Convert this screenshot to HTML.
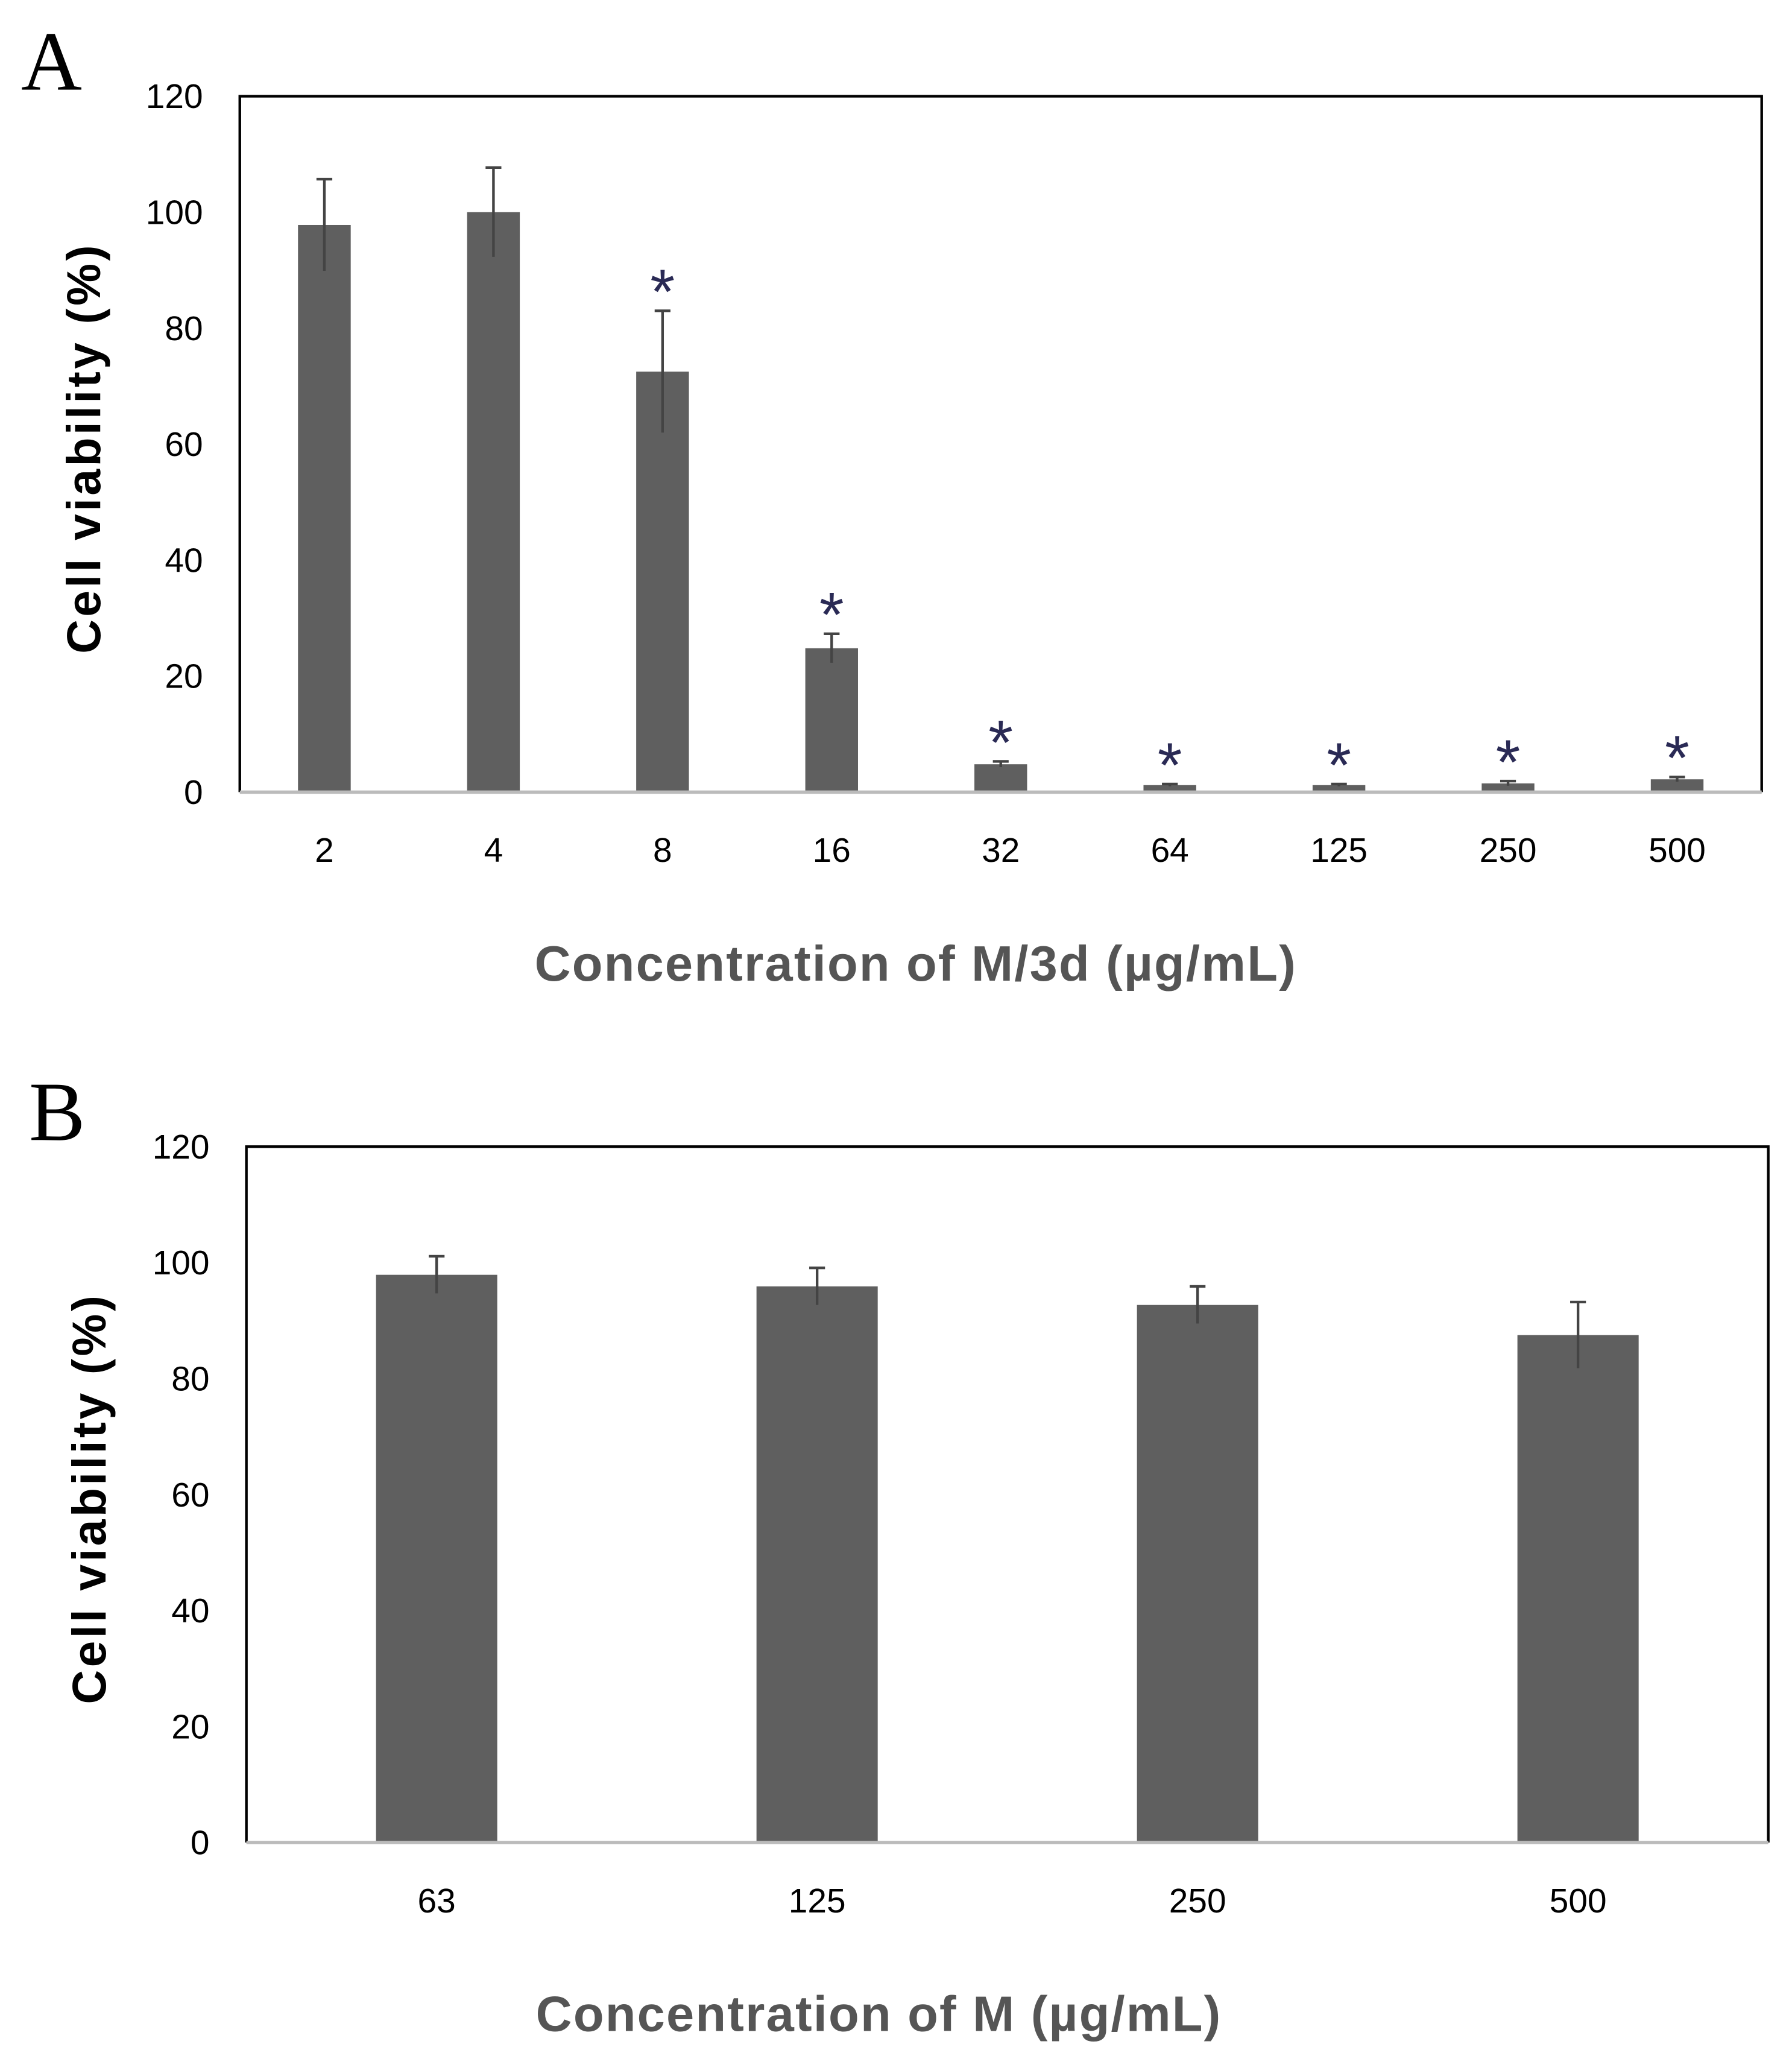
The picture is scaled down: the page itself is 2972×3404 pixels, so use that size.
<!DOCTYPE html>
<html><head><meta charset="utf-8"><style>
html,body{margin:0;padding:0;background:#fff;}
svg{display:block;}
</style></head><body>
<svg id="fig" width="2972" height="3404" viewBox="0 0 1360 1557.7" xmlns="http://www.w3.org/2000/svg" font-family="Liberation Sans, sans-serif">
<rect width="1360" height="1557.7" fill="#fff"/>
<g id="pa"></g>
<g id="pb"></g>
</svg>
<script>
const catsA = ["2","4","8","16","32","64","125","250","500"];
const valsA = [97.8, 100, 72.5, 24.8, 4.8, 1.2, 1.2, 1.5, 2.2];
const errA = [7.9, 7.7, 10.5, 2.5, 0.5, 0.2, 0.2, 0.4, 0.4];
const sigA = [false, false, true, true, true, true, true, true, true];
const catsB = ["63","125","250","500"];
const valsB = [97.9, 95.9, 92.7, 87.5];
const errB = [3.2, 3.2, 3.2, 5.7];
const yTicks = [0, 20, 40, 60, 80, 100, 120];

const NS = "http://www.w3.org/2000/svg";
function mk(parent, tag, attrs, txt) {
  const e = document.createElementNS(NS, tag);
  for (const k in attrs) e.setAttribute(k, attrs[k]);
  if (txt !== undefined) e.textContent = txt;
  parent.appendChild(e);
  return e;
}
function panel(g, cfg, cats, vals, errs, sig) {
  const {left, right, top, base, barW, letter, xTitle, yTitleX, xTitleX} = cfg;
  const y = v => base - (v / 120) * (base - top);
  const step = (right - left) / cats.length;
  const x = i => left + step * (i + 0.5);
  let e;
  e = mk(g, "text", {x: cfg.letterX, y: top - 5, style: "font-family:'Liberation Serif',serif", "font-size": 64, fill: "#000"}, letter);
  
  
  e = mk(g, "path", {d: `M${left},${base} L${left},${top} L${right},${top} L${right},${base}`, fill: "none", stroke: "#000", "stroke-width": 2});
  
  
  yTicks.forEach(t => {
    const el = mk(g, "text", {x: left - 28, y: y(t) + 9, "text-anchor": "end", "font-size": 26, fill: "#000"}, String(t));
    
    
  });
  cats.forEach((c, i) => {
    const cx = x(i);
    const b = mk(g, "rect", {x: cx - barW / 2, y: y(vals[i]), width: barW, height: base - y(vals[i]), fill: "#5f5f5f"});
    
    
    const yt = y(vals[i] + errs[i]), yb = y(vals[i] - errs[i]);
    const eb = mk(g, "path", {d: `M${cx},${yb} L${cx},${yt} M${cx - 6},${yt} L${cx + 6},${yt}`, stroke: "#444", "stroke-width": 2, fill: "none"});
    
    
    if (sig && sig[i]) {
      const s = mk(g, "text", {x: cx, y: yt + 2, "text-anchor": "middle", "font-size": 48, fill: "#2a2a55"}, "*");
      
      
    }
    const tl = mk(g, "text", {x: cx, y: base + 53, "text-anchor": "middle", "font-size": 26, fill: "#000"}, c);
    
    
  });
  e = mk(g, "line", {x1: left, y1: base, x2: right, y2: base, stroke: "#bbb", "stroke-width": 2.5});
  
  
  e = mk(g, "text", {x: xTitleX, y: base + 143, "text-anchor": "middle", "font-size": 38, "font-weight": "bold", "letter-spacing": 1, fill: "#555"}, xTitle);
  
  
  const ym = (top + base) / 2 + 3;
  e = mk(g, "text", {x: yTitleX, y: ym, "text-anchor": "middle", "font-size": 36, "font-weight": "bold", "letter-spacing": 2, fill: "#000", transform: `rotate(-90 ${yTitleX} ${ym})`}, "Cell viability (%)");
  
  
}
panel(document.getElementById("pa"), {left: 182, right: 1337, top: 73, base: 601, barW: 40, letter: "A", letterX: 16, xTitle: "Concentration of M/3d (\u00b5g/mL)", yTitleX: 76, xTitleX: 695}, catsA, valsA, errA, sigA);
panel(document.getElementById("pb"), {left: 187, right: 1342, top: 870, base: 1398, barW: 92, letter: "B", letterX: 22, xTitle: "Concentration of M (\u00b5g/mL)", yTitleX: 80, xTitleX: 667}, catsB, valsB, errB, null);
</script>
</body></html>
